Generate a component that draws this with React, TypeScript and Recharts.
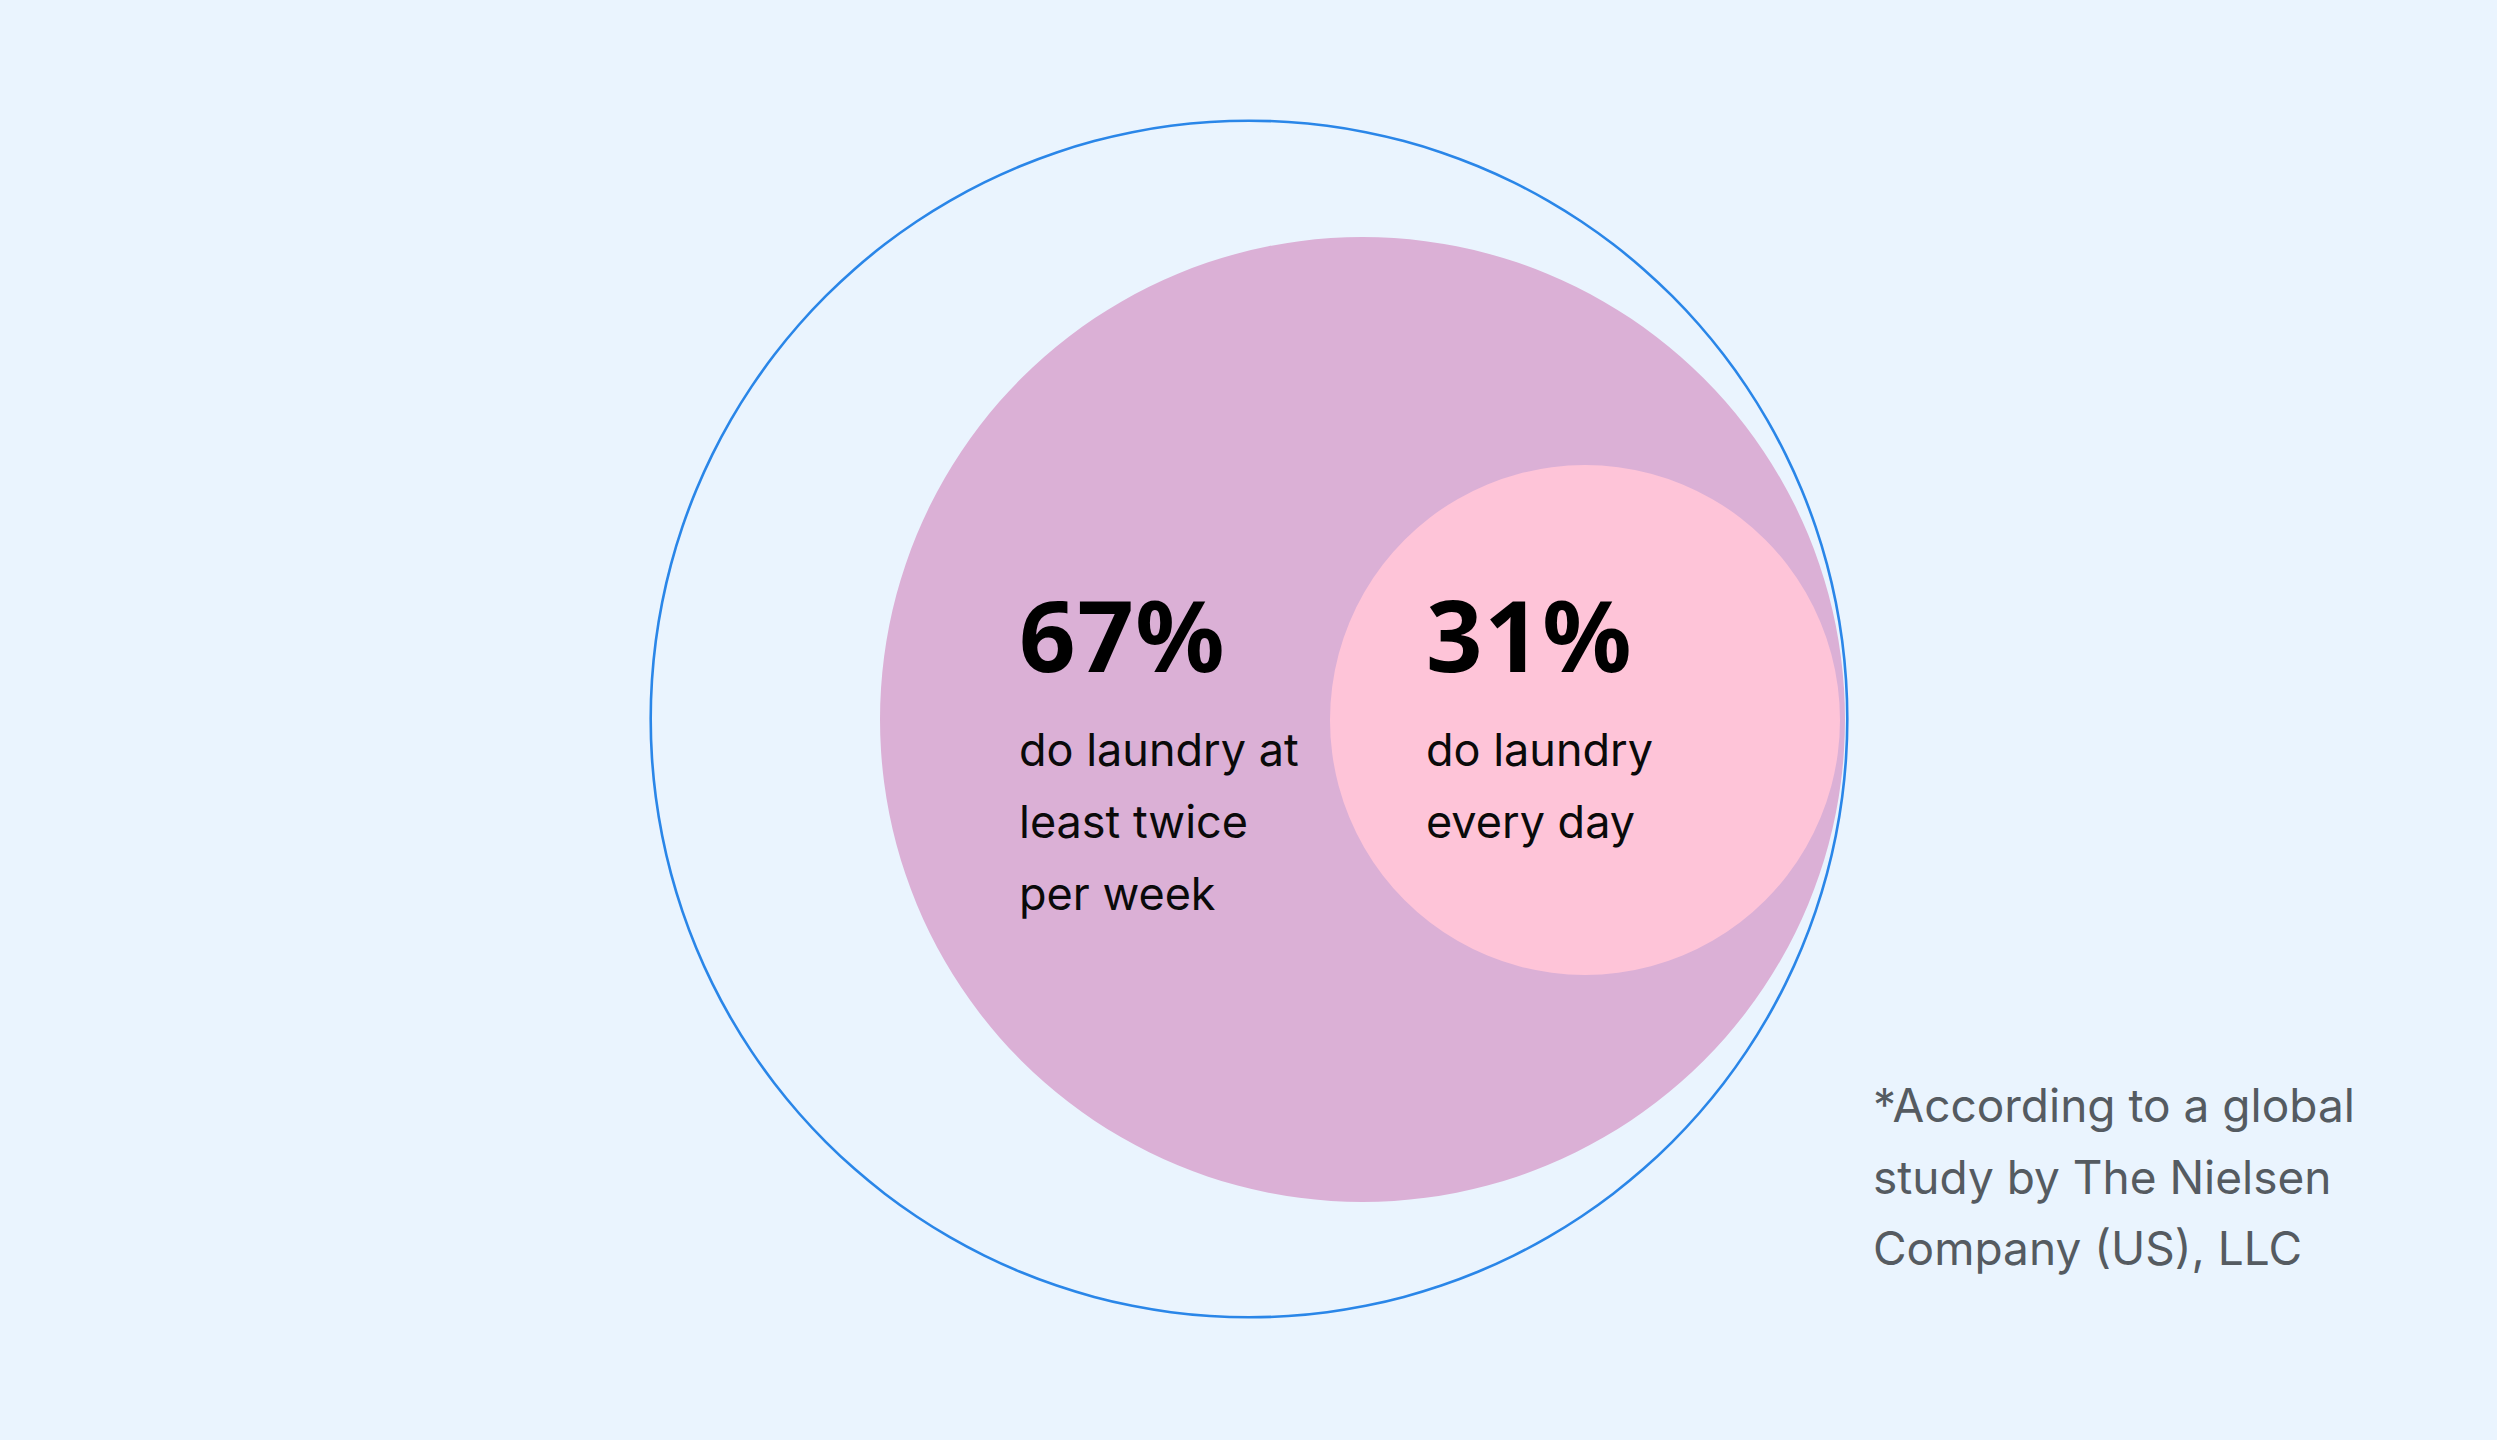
import React from "react";
import { PieChart, Pie, Cell } from "recharts";

const groups = ["all respondents", "at least twice per week", "every day"];
const shares = [100, 67, 31];
const headlines = ["", "67%", "31%"];
const captions = [
  [],
  ["do laundry at", "least twice", "per week"],
  ["do laundry", "every day"],
];
const footnote = [
  "*According to a global",
  "study by The Nielsen",
  "Company (US), LLC",
];

const rows = groups.map((name, i) => ({ name, value: shares[i] }));

const W = 2497;
const H = 1440;
const BG = "#EAF4FE";

const LaundryCircles = () => {
  return (
    <div style={{ position: "relative", width: W, height: H, background: BG }}>
      <style>{`body{margin:0;}`}</style>
      <PieChart width={W} height={H} margin={{ top: 0, right: 0, bottom: 0, left: 0 }}>
        {/* outer outline */}
        <Pie
          data={[rows[0]]}
          dataKey="value"
          cx={1249}
          cy={719}
          innerRadius={597}
          outerRadius={599.6}
          startAngle={90}
          endAngle={-270}
          stroke="none"
          isAnimationActive={false}
        >
          <Cell fill="#2A86E8" />
        </Pie>
        <Pie
          data={[rows[1]]}
          dataKey="value"
          cx={1362.5}
          cy={719.5}
          innerRadius={0}
          outerRadius={482.5}
          startAngle={90}
          endAngle={-270}
          stroke="none"
          isAnimationActive={false}
        >
          <Cell fill="#DBB0D6" />
        </Pie>
        <Pie
          data={[rows[2]]}
          dataKey="value"
          cx={1585}
          cy={720}
          innerRadius={0}
          outerRadius={255}
          startAngle={90}
          endAngle={-270}
          stroke="none"
          isAnimationActive={false}
        >
          <Cell fill="#FEC4D8" />
        </Pie>
      </PieChart>
      <svg
        width={W}
        height={H}
        style={{ position: "absolute", left: 0, top: 0, pointerEvents: "none" }}
      >
        {[1, 2].map((i) => {
          const x = i === 1 ? 1019 : 1426;
          return (
            <g key={i}>
              <text
                x={x}
                y={672}
                fontFamily="'Noto Sans', 'Open Sans', sans-serif"
                fontWeight={700}
                fontSize={99}
                letterSpacing={1.5}
                fill="#000"
              >
                {headlines[i]}
              </text>
              {captions[i].map((line, j) => (
                <text
                  key={j}
                  x={x}
                  y={766 + j * 72}
                  fontFamily="Inter, sans-serif"
                  fontSize={45}
                  fill="#0A0A0A"
                >
                  {line}
                </text>
              ))}
            </g>
          );
        })}
        {footnote.map((line, j) => (
          <text
            key={j}
            x={1873}
            y={1122 + j * 71.5}
            fontFamily="Inter, sans-serif"
            fontSize={46}
            fill="#555B61"
          >
            {line}
          </text>
        ))}
      </svg>
    </div>
  );
};

export default function App() {
  return <LaundryCircles />;
}
